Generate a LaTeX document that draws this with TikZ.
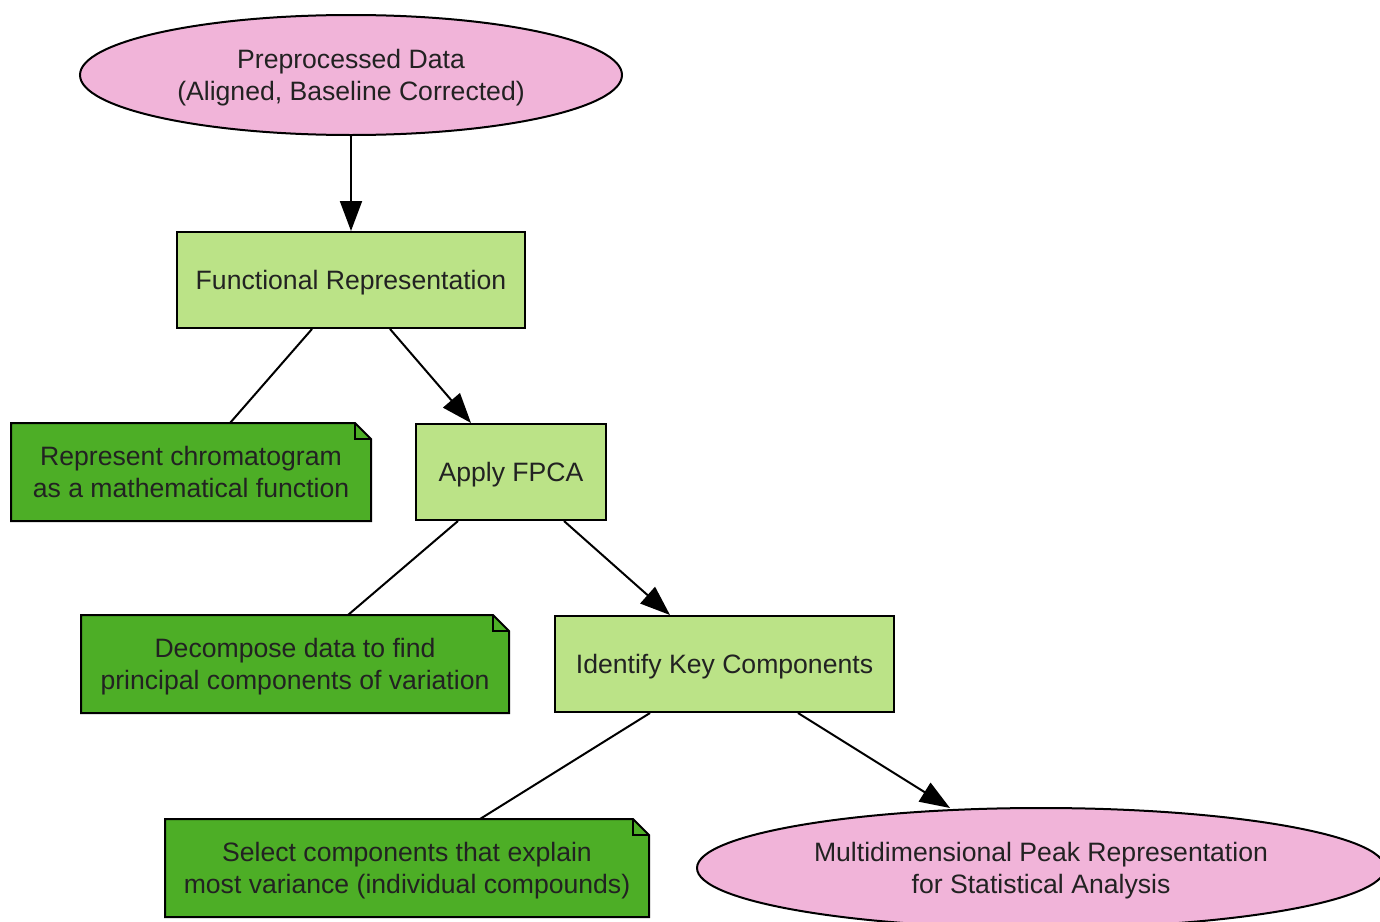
\documentclass[tikz,border=0pt]{standalone}
\usepackage{fontspec}
\setmainfont{Liberation Sans}
\usetikzlibrary{shapes.geometric,arrows.meta,calc,backgrounds}

\definecolor{datapink}{RGB}{241,180,217}
\definecolor{steplight}{RGB}{187,227,135}
\definecolor{notedark}{RGB}{77,174,38}
\definecolor{inkgray}{RGB}{34,34,34}

\tikzset{
  base/.style={line width=1pt, text=inkgray, align=center, inner sep=0pt,
    text depth=0pt, font=\fontsize{13.3}{16}\selectfont},
  datanode/.style={base, ellipse, draw, fill=datapink},
  procbox/.style={base, rectangle, draw, fill=steplight, minimum height=48pt},
  notebox/.style={base, rectangle, minimum height=48pt},
  flow/.style={line width=1pt, -{Triangle[length=15pt,width=11pt]}},
  link/.style={line width=1pt},
}

\begin{document}
\begin{tikzpicture}[x=0.5pt, y=-0.5pt]
      \useasboundingbox (0,0) rectangle (1380,921);

      % main chain
      \node[datanode, minimum width=271pt, minimum height=60pt] (prep) at (351,75)
        {Preprocessed Data\\(Aligned, Baseline Corrected)};
      \node[procbox, minimum width=174pt] (func) at (351,280) {Functional Representation};
      \node[procbox, minimum width=95pt] (fpca) at (511,472) {Apply FPCA};
      \node[procbox, minimum width=169.5pt] (keys) at (724.5,664) {Identify Key Components};
      \node[datanode, minimum width=344pt, minimum height=60pt] (peak) at (1041,868)
        {Multidimensional Peak Representation\\for Statistical Analysis};

      % notes
      \node[notebox, minimum width=179pt] (n1) at (191,472)
        {Represent chromatogram\\as a mathematical function};
      \node[notebox, minimum width=213pt] (n2) at (295,664)
        {Decompose data to find\\principal components of variation};
      \node[notebox, minimum width=241pt] (n3) at (407,868)
        {Select components that explain\\most variance (individual compounds)};

      \begin{pgfonlayer}{background}
      \foreach \n in {n1,n2,n3} {
        \filldraw[fill=notedark, line width=1pt]
          (\n.south west) -- (\n.north west) -- ([xshift=-8pt]\n.north east)
          -- ([yshift=-8pt]\n.north east) -- (\n.south east) -- cycle;
        \draw[line width=1pt] ([xshift=-8pt]\n.north east) |- ([yshift=-8pt]\n.north east);
      }
      \end{pgfonlayer}

      % connectors
      \draw[flow] (prep) -- (func);
      \draw[link] ($(func.south)+(-39,0)$) -- ($(n1.north)+(39,0)$);
      \draw[flow] ($(func.south)+(39,0)$) -- ($(fpca.north)+(-40,0)$);
      \draw[link] ($(fpca.south)+(-53,0)$) -- ($(n2.north)+(53,0)$);
      \draw[flow] ($(fpca.south)+(53,0)$) -- ($(keys.north)+(-54.5,0)$);
      \draw[link] ($(keys.south)+(-74.5,0)$) -- ($(n3.north)+(73,0)$);
      \draw[flow] ($(keys.south)+(73.5,0)$) -- ($(peak.north)+(-91,1)$);
\end{tikzpicture}
\end{document}
